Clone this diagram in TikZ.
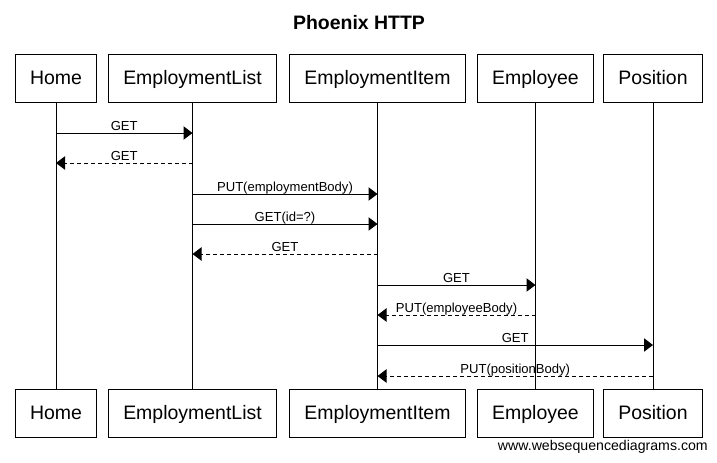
\documentclass[tikz,border=0pt]{standalone}
\usepackage{fontspec}
\setmainfont{Liberation Sans}
\usetikzlibrary{arrows.meta}
\tikzstyle{obj} = [rectangle, draw, line width=0.75pt, minimum height=36pt, inner xsep=11.25pt, text height=10.5pt, text depth=1pt, font=\fontsize{14.6pt}{17pt}\selectfont]
\tikzstyle{msg} = [line width=0.75pt, -{Triangle[length=6.75pt,width=10pt]}]
\tikzstyle{reply} = [msg, dash pattern=on 3pt off 2.25pt]
\tikzstyle{lbl} = [above=1.5pt, inner sep=0pt, text depth=0pt, font=\fontsize{9.8pt}{11pt}\selectfont]

\begin{document}
\begin{tikzpicture}[x=0.75pt,y=-0.75pt]
        \useasboundingbox (0,0) rectangle (717,462);
        \node [font=\bfseries\fontsize{14.6pt}{17pt}\selectfont] at (359,23) (title) {Phoenix HTTP};
        % participants, top and bottom
        \node [obj] at (56,78) (home) {Home};
        \node [obj] at (192.5,78) (list) {EmploymentList};
        \node [obj] at (377.5,78) (item) {EmploymentItem};
        \node [obj] at (535.5,78) (empl) {Employee};
        \node [obj] at (653,78) (pos) {Position};
        \node [obj] at (56,413.5) (home2) {Home};
        \node [obj] at (192.5,413.5) (list2) {EmploymentList};
        \node [obj] at (377.5,413.5) (item2) {EmploymentItem};
        \node [obj] at (535.5,413.5) (empl2) {Employee};
        \node [obj] at (653,413.5) (pos2) {Position};
        % lifelines
        \draw [line width=0.75pt] (home) -- (home2);
        \draw [line width=0.75pt] (list) -- (list2);
        \draw [line width=0.75pt] (item) -- (item2);
        \draw [line width=0.75pt] (empl) -- (empl2);
        \draw [line width=0.75pt] (pos) -- (pos2);
        % message rows
        \coordinate (m1) at (0,133);
        \coordinate (m2) at (0,163);
        \coordinate (m3) at (0,194);
        \coordinate (m4) at (0,224);
        \coordinate (m5) at (0,254);
        \coordinate (m6) at (0,285);
        \coordinate (m7) at (0,315);
        \coordinate (m8) at (0,345);
        \coordinate (m9) at (0,376);
        \draw [msg] (home |- m1) -- node [lbl] {GET} (list |- m1);
        \draw [reply] (list |- m2) -- node [lbl] {GET} (home |- m2);
        \draw [msg] (list |- m3) -- node [lbl] {PUT(employmentBody)} (item |- m3);
        \draw [msg] (list |- m4) -- node [lbl] {GET(id=?)} (item |- m4);
        \draw [reply] (item |- m5) -- node [lbl] {GET} (list |- m5);
        \draw [msg] (item |- m6) -- node [lbl] {GET} (empl |- m6);
        \draw [reply] (empl |- m7) -- node [lbl] {PUT(employeeBody)} (item |- m7);
        \draw [msg] (item |- m8) -- node [lbl] {GET} (pos |- m8);
        \draw [reply] (pos |- m9) -- node [lbl] {PUT(positionBody)} (item |- m9);
        \node [anchor=east, inner sep=0pt, font=\fontsize{10.6pt}{12pt}\selectfont] at (708,447) (wsd) {www.websequencediagrams.com};
\end{tikzpicture}
\end{document}
